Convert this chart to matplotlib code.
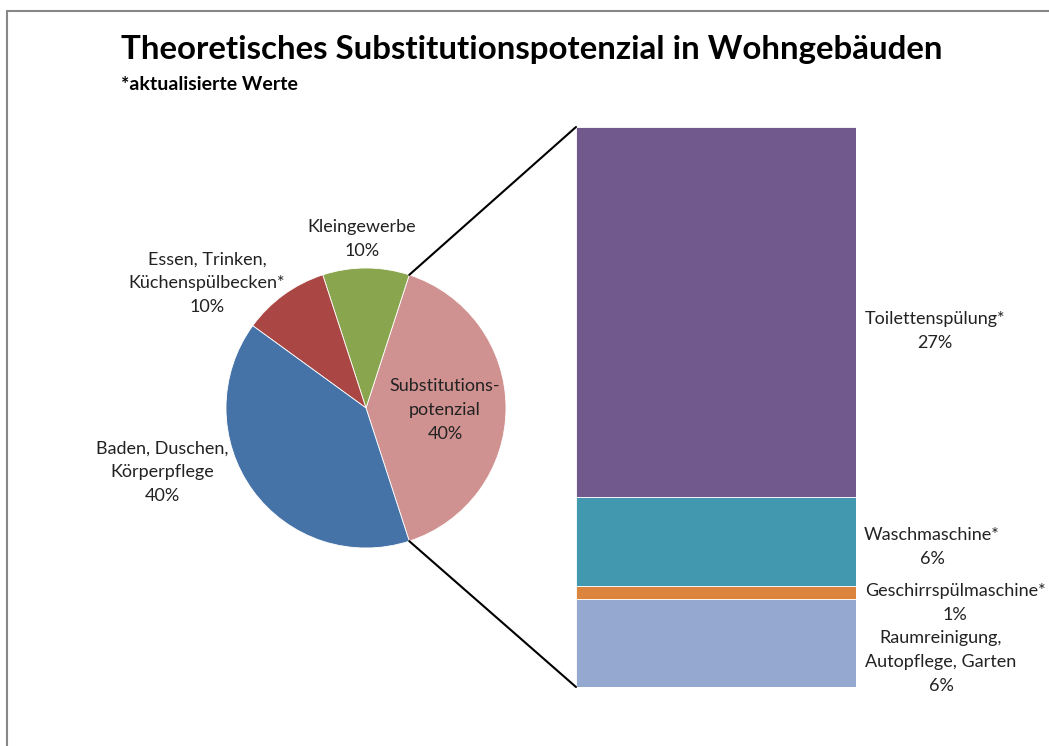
import matplotlib
matplotlib.use("Agg")
from matplotlib import pyplot as plt
from matplotlib.patches import ConnectionPatch, Rectangle
import numpy as np

plt.rcParams['font.family'] = ['Lato', 'DejaVu Sans']

# pie: counter-clockwise starting with the split-off slice
pie_labels = ['Substitutions-\npotenzial', 'Kleingewerbe', 'Essen, Trinken,\nKüchenspülbecken*', 'Baden, Duschen,\nKörperpflege']
pie_values = [40, 10, 10, 40]
pie_colors = ['#D09291', '#89A54E', '#AA4643', '#4572A7']

# bar: stacked from bottom to top
bar_labels = ['Raumreinigung,\nAutopflege, Garten', 'Geschirrspülmaschine*', 'Waschmaschine*', 'Toilettenspülung*']
bar_values = [6.3, 0.9, 6.4, 26.4]
bar_pct = ['6%', '1%', '6%', '27%']
bar_colors = ['#95A9D0', '#DB843D', '#4198AF', '#71598E']

W, H = 1049, 746
fig = plt.figure(figsize=(W / 100, H / 100), dpi=100)

def fx(px):
    return px / W

def fy(py):
    return 1 - py / H

# frame
fig.add_artist(Rectangle((fx(6.5), fy(760)), 1.2, fy(10.5) - fy(760), transform=fig.transFigure,
                         fill=False, edgecolor='#878787', lw=1.5))

fig.text(fx(121), fy(50), 'Theoretisches Substitutionspotenzial in Wohngebäuden',
         fontsize=23.8, fontweight='bold', va='center', ha='left')
fig.text(fx(121), fy(84), '*aktualisierte Werte', fontsize=14, fontweight='bold', va='center', ha='left')

# pie
cx, cy, r = 366, 408, 140
axp = fig.add_axes([fx(cx - r), fy(cy + r), fx(2 * r), fy(cy - r) - fy(cy + r)])
start = -pie_values[0] / sum(pie_values) * 360 / 2
wedges, _ = axp.pie(pie_values, colors=pie_colors, startangle=start, counterclock=True,
                    wedgeprops=dict(edgecolor='white', linewidth=0.6), radius=1)
axp.set_xlim(-1, 1)
axp.set_ylim(-1, 1)
axp.set_aspect('equal')
axp.axis('off')

fs, ls = 13, 1.6

# label positions in pixels (layout)
pie_label_pos = [(445, 410), (362, 239), (207, 283), (162, 472)]
for lab, v, (px, py) in zip(pie_labels, pie_values, pie_label_pos):
    fig.text(fx(px), fy(py), lab + '\n' + f'{v}%', ha='center', va='center',
             fontsize=fs, color='#222222', linespacing=ls)

# bar
bx0, bx1, by0, by1 = 576, 856, 127, 687
axb = fig.add_axes([fx(bx0), fy(by1), fx(bx1 - bx0), fy(by0) - fy(by1)])
bottom = 0
for v, c in zip(bar_values, bar_colors):
    axb.bar(0, v, width=1, bottom=bottom, color=c, edgecolor='white', linewidth=0.6)
    bottom += v
axb.set_xlim(-0.5, 0.5)
axb.set_ylim(0, sum(bar_values))
axb.axis('off')

bar_label_pos = [(941, 662), (955, 603), (932, 547), (935, 331)]
for lab, p, (px, py) in zip(bar_labels, bar_pct, bar_label_pos):
    fig.text(fx(px), fy(py), lab + '\n' + p, ha='center', va='center',
             fontsize=fs, color='#222222', linespacing=ls)

# connector lines from split slice edges to bar corners
w = wedges[0]
for ang, ybar in [(w.theta2, sum(bar_values)), (w.theta1, 0)]:
    a = np.deg2rad(ang)
    con = ConnectionPatch(xyA=(np.cos(a), np.sin(a)), coordsA=axp.transData,
                          xyB=(-0.5, ybar), coordsB=axb.transData, color='black', lw=1.5)
    fig.add_artist(con)

fig.savefig('out.png', dpi=100)
